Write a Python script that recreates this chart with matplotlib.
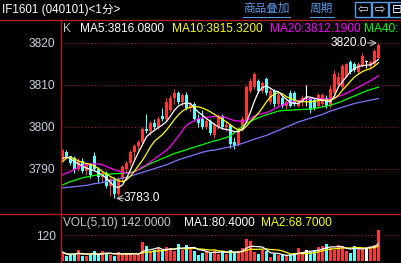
import numpy as np
import pandas as pd
import matplotlib
matplotlib.use("Agg")
import matplotlib.pyplot as plt
from matplotlib.lines import Line2D
from matplotlib.patches import Rectangle

# 1-minute candles, IF1601
opens = [3792.2, 3794.0, 3793.0, 3792.5, 3790.0, 3792.0, 3789.5, 3791.0, 3793.0, 3790.0,
         3788.0, 3789.0, 3786.0, 3787.5, 3784.0, 3787.5, 3790.0, 3791.5, 3794.0, 3795.5,
         3796.5, 3799.5, 3799.0, 3801.0, 3800.0, 3802.5, 3802.0, 3804.0, 3807.0, 3808.0,
         3806.0, 3807.5, 3804.5, 3805.5, 3802.0, 3802.0, 3800.0, 3801.5, 3798.0, 3800.0,
         3802.5, 3800.0, 3800.5, 3796.5, 3795.7, 3799.5, 3801.5, 3808.5, 3809.5, 3811.0,
         3808.5, 3811.5, 3806.0, 3808.5, 3805.5, 3807.0, 3805.0, 3808.0, 3808.0, 3805.0,
         3806.0, 3807.0, 3807.0, 3806.5, 3805.0, 3805.5, 3807.0, 3805.0, 3808.0, 3810.0,
         3809.5, 3812.0, 3815.5, 3815.0, 3813.0, 3814.5, 3815.5, 3814.5, 3815.0, 3816.5]
highs = [3794.8, 3794.5, 3793.2, 3793.0, 3792.5, 3792.5, 3791.5, 3791.5, 3794.0, 3790.5,
         3789.5, 3789.5, 3788.0, 3788.0, 3788.0, 3791.0, 3792.0, 3794.5, 3796.0, 3797.0,
         3800.0, 3803.0, 3801.5, 3802.0, 3802.5, 3804.5, 3807.0, 3807.5, 3809.0, 3808.5,
         3808.0, 3808.3, 3806.0, 3806.0, 3803.0, 3804.0, 3802.0, 3802.0, 3801.3, 3803.0,
         3803.0, 3801.5, 3800.8, 3797.5, 3800.0, 3802.5, 3810.0, 3811.6, 3813.0, 3811.5,
         3811.0, 3812.0, 3809.0, 3809.0, 3808.0, 3807.5, 3806.5, 3808.8, 3808.5, 3806.5,
         3807.5, 3810.0, 3807.2, 3807.0, 3808.0, 3808.0, 3807.5, 3810.0, 3813.5, 3813.0,
         3815.0, 3815.3, 3816.0, 3815.5, 3815.5, 3817.6, 3816.0, 3816.0, 3818.5, 3820.0]
lows = [3792.0, 3792.5, 3791.0, 3789.0, 3789.5, 3789.0, 3788.5, 3787.8, 3789.5, 3787.0,
        3787.0, 3785.5, 3783.5, 3783.0, 3783.5, 3787.0, 3789.0, 3791.0, 3792.0, 3794.5,
        3796.0, 3798.5, 3798.0, 3799.5, 3799.5, 3801.5, 3801.5, 3803.5, 3805.5, 3805.5,
        3805.0, 3804.0, 3803.5, 3801.5, 3800.0, 3799.5, 3799.5, 3798.0, 3797.3, 3799.5,
        3799.5, 3799.0, 3795.0, 3794.8, 3795.5, 3799.0, 3801.3, 3808.0, 3809.0, 3808.0,
        3808.0, 3807.5, 3805.5, 3804.8, 3805.0, 3804.5, 3804.3, 3804.8, 3805.0, 3804.8,
        3805.0, 3805.0, 3803.3, 3804.0, 3804.5, 3805.0, 3804.5, 3804.5, 3807.5, 3809.5,
        3809.0, 3811.8, 3812.5, 3813.0, 3812.5, 3814.3, 3814.0, 3814.0, 3814.5, 3816.4]
closes = [3794.5, 3793.0, 3791.5, 3790.0, 3792.0, 3789.5, 3791.0, 3788.5, 3790.0, 3788.0,
          3789.0, 3786.0, 3787.5, 3784.0, 3787.5, 3790.5, 3791.5, 3794.0, 3795.5, 3796.5,
          3799.5, 3799.0, 3801.0, 3800.0, 3802.0, 3802.0, 3806.0, 3807.0, 3808.0, 3806.0,
          3807.5, 3804.5, 3805.5, 3802.0, 3801.0, 3800.0, 3801.5, 3798.5, 3800.5, 3802.5,
          3800.0, 3800.5, 3796.0, 3795.5, 3799.5, 3802.0, 3809.5, 3811.0, 3812.5, 3808.5,
          3810.5, 3808.0, 3808.5, 3805.5, 3807.5, 3805.0, 3806.0, 3805.0, 3805.5, 3806.0,
          3807.0, 3807.0, 3804.0, 3804.5, 3807.5, 3807.5, 3805.0, 3809.0, 3812.5, 3812.0,
          3814.5, 3815.0, 3813.0, 3813.5, 3815.0, 3817.0, 3815.5, 3815.5, 3818.0, 3819.5]
volumes = [41, 24, 30, 32, 50, 24, 24, 30, 44, 28,
           44, 37, 30, 24, 40, 30, 33, 33, 30, 33,
           86, 68, 44, 51, 60, 44, 66, 58, 44, 80,
           51, 72, 62, 48, 30, 37, 44, 37, 51, 33,
           44, 33, 53, 40, 40, 62, 102, 93, 40, 33,
           53, 44, 18, 33, 26, 26, 26, 30, 37, 58,
           40, 50, 40, 50, 65, 71, 80, 58, 51, 75,
           66, 45, 38, 70, 66, 60, 62, 66, 72, 142]

# moving average lines as shown on screen
ma5 = [3792.5, 3792.9, 3792.4, 3791.8, 3791.2, 3790.7, 3790.2, 3789.9, 3789.6, 3789.1,
       3788.5, 3787.8, 3786.8, 3785.8, 3785.6, 3786.2, 3787.8, 3789.8, 3792.0, 3794.0,
       3795.8, 3797.7, 3798.5, 3799.2, 3799.9, 3800.5, 3801.3, 3802.6, 3804.0, 3805.0,
       3805.5, 3805.7, 3805.6, 3804.5, 3803.5, 3802.8, 3802.0, 3801.3, 3800.6, 3800.0,
       3799.6, 3799.4, 3799.2, 3798.9, 3798.9, 3799.5, 3801.2, 3803.6, 3806.2, 3808.4,
       3809.4, 3809.8, 3809.2, 3808.6, 3808.4, 3807.4, 3806.6, 3805.8, 3805.6, 3805.6,
       3806.3, 3807.2, 3807.1, 3806.8, 3806.6, 3806.4, 3806.2, 3806.0, 3807.4, 3809.6,
       3810.8, 3812.0, 3813.2, 3813.9, 3814.4, 3814.6, 3814.7, 3814.8, 3815.4, 3816.1]
ma10 = [3791.7, 3792.6, 3792.8, 3792.4, 3791.9, 3791.6, 3791.3, 3791.1, 3790.7, 3790.1,
        3789.4, 3788.8, 3788.2, 3787.7, 3787.2, 3787.0, 3787.4, 3788.3, 3789.5, 3790.8,
        3792.1, 3793.6, 3795.3, 3796.6, 3797.4, 3798.2, 3799.3, 3800.5, 3801.8, 3802.9,
        3803.8, 3804.4, 3804.7, 3804.8, 3804.8, 3804.5, 3804.1, 3803.6, 3803.0, 3802.4,
        3801.8, 3801.2, 3800.5, 3799.8, 3799.3, 3799.3, 3800.2, 3801.3, 3802.3, 3803.3,
        3804.6, 3806.0, 3807.2, 3807.8, 3808.2, 3807.9, 3807.2, 3806.8, 3806.4, 3806.1,
        3806.0, 3806.0, 3806.0, 3806.1, 3806.3, 3806.4, 3806.4, 3806.4, 3806.8, 3807.6,
        3808.8, 3809.8, 3810.9, 3811.9, 3812.6, 3813.2, 3813.6, 3813.9, 3814.5, 3815.3]
ma20 = [3788.6, 3789.0, 3789.4, 3789.9, 3790.4, 3790.8, 3791.1, 3791.2, 3791.2, 3791.2,
        3791.0, 3790.6, 3790.2, 3789.8, 3789.5, 3789.2, 3789.0, 3789.0, 3789.3, 3789.9,
        3790.5, 3791.0, 3791.7, 3792.4, 3793.1, 3793.8, 3794.5, 3795.4, 3796.6, 3797.8,
        3799.2, 3800.4, 3801.0, 3801.5, 3802.0, 3802.2, 3802.3, 3802.4, 3802.5, 3802.5,
        3802.4, 3802.2, 3801.8, 3801.5, 3801.4, 3801.4, 3801.5, 3802.0, 3802.6, 3803.0,
        3803.2, 3803.4, 3803.8, 3804.3, 3804.8, 3805.2, 3805.6, 3805.9, 3806.1, 3806.3,
        3806.4, 3806.5, 3806.7, 3806.8, 3806.8, 3806.7, 3806.6, 3806.6, 3806.9, 3807.3,
        3807.6, 3808.0, 3808.5, 3809.0, 3809.5, 3810.0, 3810.5, 3811.0, 3811.6, 3812.2]
ma40 = [3786.2, 3786.6, 3787.0, 3787.3, 3787.6, 3787.9, 3788.1, 3788.3, 3788.5, 3788.6,
        3788.7, 3788.8, 3788.8, 3788.9, 3788.9, 3789.0, 3789.1, 3789.2, 3789.4, 3789.8,
        3790.3, 3790.8, 3791.3, 3791.7, 3792.1, 3792.5, 3792.9, 3793.3, 3793.7, 3794.0,
        3794.3, 3794.6, 3794.9, 3795.2, 3795.5, 3795.8, 3796.1, 3796.4, 3796.7, 3796.9,
        3797.2, 3797.5, 3797.9, 3798.6, 3799.4, 3800.2, 3800.9, 3801.4, 3801.8, 3802.2,
        3802.6, 3802.9, 3803.2, 3803.5, 3803.8, 3803.9, 3804.0, 3804.0, 3804.1, 3804.1,
        3804.2, 3804.2, 3804.3, 3804.4, 3804.6, 3804.8, 3805.0, 3805.2, 3805.5, 3805.8,
        3806.2, 3806.6, 3807.0, 3807.4, 3807.8, 3808.2, 3808.6, 3808.9, 3809.2, 3809.5]
ma60 = [3785.5, 3785.6, 3785.7, 3785.8, 3785.9, 3786.0, 3786.1, 3786.3, 3786.5, 3786.6,
        3786.8, 3787.0, 3787.2, 3787.4, 3787.6, 3787.8, 3788.0, 3788.3, 3788.6, 3788.9,
        3789.2, 3789.5, 3789.8, 3790.1, 3790.4, 3790.7, 3791.0, 3791.4, 3791.8, 3792.2,
        3792.5, 3792.8, 3793.1, 3793.4, 3793.7, 3794.0, 3794.2, 3794.4, 3794.5, 3794.7,
        3794.9, 3795.1, 3795.3, 3795.5, 3795.8, 3796.1, 3796.4, 3796.8, 3797.1, 3797.4,
        3797.7, 3798.0, 3798.4, 3798.8, 3799.2, 3799.6, 3800.0, 3800.4, 3800.8, 3801.2,
        3801.5, 3801.8, 3802.1, 3802.4, 3802.7, 3803.0, 3803.4, 3803.8, 3804.1, 3804.4,
        3804.7, 3805.0, 3805.3, 3805.6, 3805.8, 3806.0, 3806.2, 3806.4, 3806.6, 3806.8]

price_ticks = [3790, 3800, 3810, 3820]
vol_ticks = [120]
ma_labels = ["MA5:3816.0800", "MA10:3815.3200", "MA20:3812.1900", "MA40:"]
vol_labels = ["VOL(5,10) 142.0000", "MA1:80.4000", "MA2:68.7000"]

RED = '#ff3434'
CYAN = '#54ffff'
FRAME = '#b01e1e'
GRID = '#9a1a1a'
TICK = '#c8d0e0'
BLUE = '#5a9ae6'
FONT = ['Liberation Sans', 'Noto Sans CJK SC']
FS = 8.6

W, H = 402, 263
fig = plt.figure(figsize=(W / 100, H / 100), dpi=100, facecolor='black')

def fx(px):
    return px / W

def fy(py):
    return 1 - py / H

ax = fig.add_axes([fx(61), fy(213), 1 - fx(61), (213 - 19) / H])
axv = fig.add_axes([fx(61), 0, 1 - fx(61), (263 - 214) / H])

idx = np.arange(len(closes))
cols = []
for o, c in zip(opens, closes):
    if c > o:
        cols.append(RED)
    elif c < o:
        cols.append(CYAN)
    else:
        cols.append('white')

# candles
body_lo = np.minimum(opens, closes)
body_h = np.maximum(np.abs(np.array(closes) - np.array(opens)), 0.25)
ax.vlines(idx, lows, highs, colors=cols, lw=0.8, zorder=2)
ax.bar(idx, body_h, bottom=body_lo, width=0.6, color=cols, lw=0, zorder=2)

# MA lines
for vals, c in [(ma60, '#7a78ff'), (ma40, '#00ff00'), (ma20, '#ff00ff'),
                (ma10, '#ffff00'), (ma5, 'white')]:
    ax.plot(idx, vals, color=c, lw=0.9, zorder=3)

# volume
axv.bar(idx, volumes, width=0.6, color=cols, lw=0, zorder=2)
vs = pd.Series(volumes)
axv.plot(idx, vs.rolling(10, min_periods=1).mean(), color='#ffff00', lw=0.9, zorder=3)
axv.plot(idx, vs.rolling(5, min_periods=1).mean(), color='white', lw=0.9, zorder=3)

for a in (ax, axv):
    a.set_facecolor('black')
    for s in a.spines.values():
        s.set_visible(False)
    a.set_xlim(-0.375, 84.875)
    a.set_xticks([])
    a.tick_params(axis='y', length=0, pad=4, labelcolor=TICK, labelsize=FS)
    a.grid(axis='y', color=GRID, lw=0.8, linestyle=(0, (1, 2)))

ax.set_ylim(3779.52, 3825.71)
ax.set_yticks(price_ticks)
ax.set_yticklabels([str(t) for t in price_ticks], family=FONT)
axv.set_ylim(-9.2, 216.9)
axv.set_yticks(vol_ticks)
axv.set_yticklabels([str(t) for t in vol_ticks], family=FONT)

# high / low markers
hi = int(np.argmax(highs))
lo = int(np.argmin(lows))
ax.annotate('', xy=(hi, highs[hi]), xytext=(-11, 0), textcoords='offset pixels',
            arrowprops=dict(arrowstyle='->', color='#c0c0c0', lw=0.8, shrinkA=0, shrinkB=1))
ax.annotate('%.1f' % highs[hi], xy=(hi, highs[hi]), xytext=(-12, 0), textcoords='offset pixels',
            ha='right', va='center', color='white', fontsize=FS, family=FONT)
ax.annotate('', xy=(lo, lows[lo]), xytext=(9, 0), textcoords='offset pixels',
            arrowprops=dict(arrowstyle='->', color='#c0c0c0', lw=0.8, shrinkA=0, shrinkB=1))
ax.annotate('%.1f' % lows[lo], xy=(lo, lows[lo]), xytext=(9, 0), textcoords='offset pixels',
            ha='left', va='center', color='white', fontsize=FS, family=FONT)

# frame lines
for x0, y0, x1, y1 in [(0, 19.5, W, 19.5), (0, 213.5, W, 213.5), (61.5, 19.5, 61.5, H)]:
    fig.add_artist(Line2D([fx(x0), fx(x1)], [fy(y0), fy(y1)], color=FRAME, lw=1.0))

# header bar
fig.text(fx(2), fy(10), 'IF1601 (040101)<1分>', color='white', fontsize=8.4,
         va='center', family=FONT)
fig.text(fx(243), fy(9), '商品叠加', color=BLUE, fontsize=8.4, va='center', family=FONT)
fig.text(fx(310), fy(9), '周期', color=BLUE, fontsize=8.4, va='center', family=FONT)
for x0, x1 in [(243, 290), (310, 334)]:
    fig.add_artist(Line2D([fx(x0), fx(x1)], [fy(16.5), fy(16.5)], color=BLUE, lw=0.8))
for bx, glyph in [(355, '⇦'), (372, '⇨'), (389, '⊟')]:
    fig.add_artist(Rectangle((fx(bx), fy(17)), 16 / W, 15 / H, transform=fig.transFigure,
                             facecolor='black', edgecolor=BLUE, lw=1.0))
    fig.text(fx(bx + 8), fy(9.5), glyph, color='#e0e8ff', fontsize=9, ha='center',
             va='center', family=['DejaVu Sans'])

# MA legend line
fig.text(fx(63), fy(29), 'K', color='#c0c0c0', fontsize=FS, va='center', family=FONT)
for xpos, txt, c in zip([80, 172, 270, 364], ma_labels,
                        ['white', '#ffff00', '#ff00ff', '#00ff00']):
    fig.text(fx(xpos), fy(29), txt, color=c, fontsize=FS, va='center', family=FONT)

# volume legend line
for xpos, txt, c in zip([63, 184, 261], vol_labels, ['#c8c8c8', 'white', '#ffff00']):
    fig.text(fx(xpos), fy(223), txt, color=c, fontsize=FS, va='center', family=FONT)

fig.savefig('out.png', dpi=100, facecolor='black')
